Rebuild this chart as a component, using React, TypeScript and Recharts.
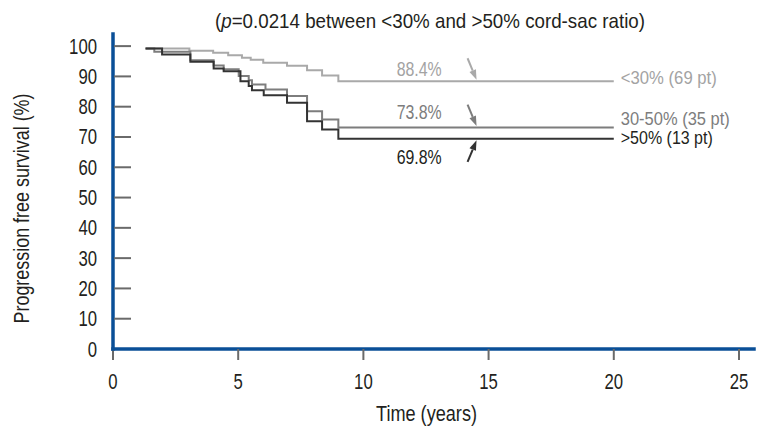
import React from 'react';
import { LineChart, Line, XAxis, YAxis, ReferenceDot } from 'recharts';

const FONT = "'Liberation Sans', Arial, sans-serif";
const INK = '#231f20';

const xTicks = [0, 5, 10, 15, 20, 25];
const yTicks = [0, 10, 20, 30, 40, 50, 60, 70, 80, 90, 100];

// <30% cord-sac ratio
const lowTime = [1.3, 3.05, 4.0, 4.6, 5.15, 5.5, 6.0, 6.95, 7.75, 8.35, 9.0, 20];
const lowSurv = [99.2, 98.5, 97.8, 97.0, 96.2, 95.5, 94.5, 93.5, 92.0, 90.3, 88.4, 88.4];

// 30-50%
const midTime = [1.3, 1.65, 3.09, 4.02, 4.42, 5.02, 5.42, 5.55, 6.09, 6.95, 7.75, 8.35, 9.0, 20];
const midSurv = [99.2, 98.1, 95.3, 93.6, 92.4, 90.1, 88.7, 87.3, 85.7, 83.5, 78.5, 75.8, 73.1, 73.1];

// >50%
const highTime = [1.3, 1.96, 3.09, 4.02, 4.42, 5.09, 5.42, 5.55, 6.02, 6.95, 7.75, 8.35, 9.0, 20];
const highSurv = [99.2, 97.2, 94.8, 92.6, 91.7, 88.4, 86.8, 85.4, 83.8, 81.3, 75.2, 72.5, 69.4, 69.4];

const groupNames = ['<30% (69 pt)', '30-50% (35 pt)', '>50% (13 pt)'];
const finalLabels = ['88.4%', '73.8%', '69.8%'];
const colors = ['#a9a9a9', '#7d7d7d', '#333333'];
const textColors = ['#a3a3a3', '#7d7d7d', INK];
const noteTime = 14.5;
const endTime = 20;

const toRows = (t: number[], v: number[]) => t.map((x, i) => ({ t: x, v: v[i] }));
const series = [toRows(lowTime, lowSurv), toRows(midTime, midSurv), toRows(highTime, highSurv)];
const finals = [lowSurv[lowSurv.length - 1], midSurv[midSurv.length - 1], highSurv[highSurv.length - 1]];

// condensed look: squeeze Liberation Sans to the measured width
const Fit = ({ x, y, w, size, fill = INK, children, transform }: any) => (
  <text
    x={x}
    y={y}
    textLength={w}
    lengthAdjust="spacingAndGlyphs"
    fontSize={size}
    fill={fill}
    fontFamily={FONT}
    transform={transform}
  >
    {children}
  </text>
);

const DIGIT = 9.3;
const TICK = '#6a6a6a';

const YTick = (props: any) => {
  const x = Number(props.x);
  const y = Number(props.y);
  const s = String(props.payload.value);
  const w = s.length * DIGIT;
  return (
    <g>
      {s !== '0' && <path d={`M${x + 17},${y}H${x + 34}`} stroke={TICK} strokeWidth={2} fill="none" />}
      <Fit x={x - w} y={y + 7.5} w={w} size={22.5}>{s}</Fit>
    </g>
  );
};

const XTick = (props: any) => {
  const x = Number(props.x);
  const y = Number(props.y);
  const s = String(props.payload.value);
  const w = s.length * DIGIT;
  return <Fit x={x - w / 2} y={y + 29} w={w} size={22.5}>{s}</Fit>;
};

// arrow + percentage text near the curve
const noteShift = [-5, -8.3, 25.7];
const Note = (props: any) => {
  const cx = Number(props.cx);
  const cy = Number(props.cy);
  const idx = props.idx;
  const up = idx === 2;
  const s = up ? 1 : -1;
  const tipX = cx + 0.5;
  const tipY = cy + s * 1.5;
  const startX = cx - 8.5;
  const startY = cy + s * 23;
  const dx = tipX - startX;
  const dy = tipY - startY;
  const len = Math.sqrt(dx * dx + dy * dy);
  const ux = dx / len;
  const uy = dy / len;
  const hl = 10;
  const hw = 3.5;
  const bx = tipX - ux * hl;
  const by = tipY - uy * hl;
  return (
    <g>
      <line x1={startX} y1={startY} x2={bx} y2={by} stroke={colors[idx]} strokeWidth={2} />
      <polygon
        points={`${tipX},${tipY} ${bx - uy * hw},${by + ux * hw} ${bx + uy * hw},${by - ux * hw}`}
        fill={colors[idx]}
      />
      <Fit x={cx - 79.4} y={cy + noteShift[idx]} w={45} size={19.5} fill={textColors[idx]}>
        {finalLabels[idx]}
      </Fit>
    </g>
  );
};

const endShift = [3, -3, 5];
const endWidth = [96, 109, 92];
const EndLabel = (props: any) => {
  const idx = props.idx;
  return (
    <Fit x={Number(props.cx) + 7} y={Number(props.cy) + endShift[idx]} w={endWidth[idx]} size={18} fill={textColors[idx]}>
      {groupNames[idx]}
    </Fit>
  );
};

export default function App() {
  return (
    <div style={{ position: 'absolute', left: 0, top: 0, width: 762, height: 437, background: '#fff' }}>
      <svg width={762} height={34} style={{ position: 'absolute', left: 0, top: 0 }}>
        <Fit x={215} y={28} w={430} size={21}>
          (<tspan fontStyle="italic">p</tspan>=0.0214 between &lt;30% and &gt;50% cord-sac ratio)
        </Fit>
      </svg>
      <LineChart width={762} height={437} margin={{ top: 34, right: 8, bottom: 0, left: 0 }}>
        <XAxis
          dataKey="t"
          type="number"
          domain={[0, 25.6]}
          ticks={xTicks}
          allowDataOverflow
          height={88}
          tickSize={11}
          tickMargin={0}
          tickLine={{ stroke: TICK, strokeWidth: 2 }}
          axisLine={{ stroke: '#0a4f97', strokeWidth: 3.5, strokeLinecap: 'square' }}
          tick={<XTick />}
          label={{
            content: (p: any) => (
              <Fit x={376} y={p.viewBox.y + 72} w={101} size={22}>
                Time (years)
              </Fit>
            ),
          }}
        />
        <YAxis
          type="number"
          domain={[0, 104]}
          ticks={yTicks}
          allowDataOverflow
          width={113}
          tickSize={0}
          tickMargin={16}
          tickLine={false}
          axisLine={{ stroke: '#0a4f97', strokeWidth: 3.5, strokeLinecap: 'square' }}
          tick={<YTick />}
          label={{
            content: (p: any) => (
              <Fit
                x={-115}
                y={0}
                w={230}
                size={21.5}
                transform={`translate(29, ${p.viewBox.y + p.viewBox.height / 2 + 17}) rotate(-90)`}
              >
                Progression free survival (%)
              </Fit>
            ),
          }}
        />
        {series.map((rows, i) => (
          <Line
            key={groupNames[i]}
            data={rows}
            dataKey="v"
            type="stepAfter"
            stroke={colors[i]}
            strokeWidth={2}
            dot={false}
            activeDot={false}
            isAnimationActive={false}
          />
        ))}
        {finals.map((v, i) => (
          <ReferenceDot key={'n' + i} x={noteTime} y={v} r={0} shape={(p: any) => <Note {...p} idx={i} />} />
        ))}
        {finals.map((v, i) => (
          <ReferenceDot key={'e' + i} x={endTime} y={v} r={0} shape={(p: any) => <EndLabel {...p} idx={i} />} />
        ))}
      </LineChart>
    </div>
  );
}
